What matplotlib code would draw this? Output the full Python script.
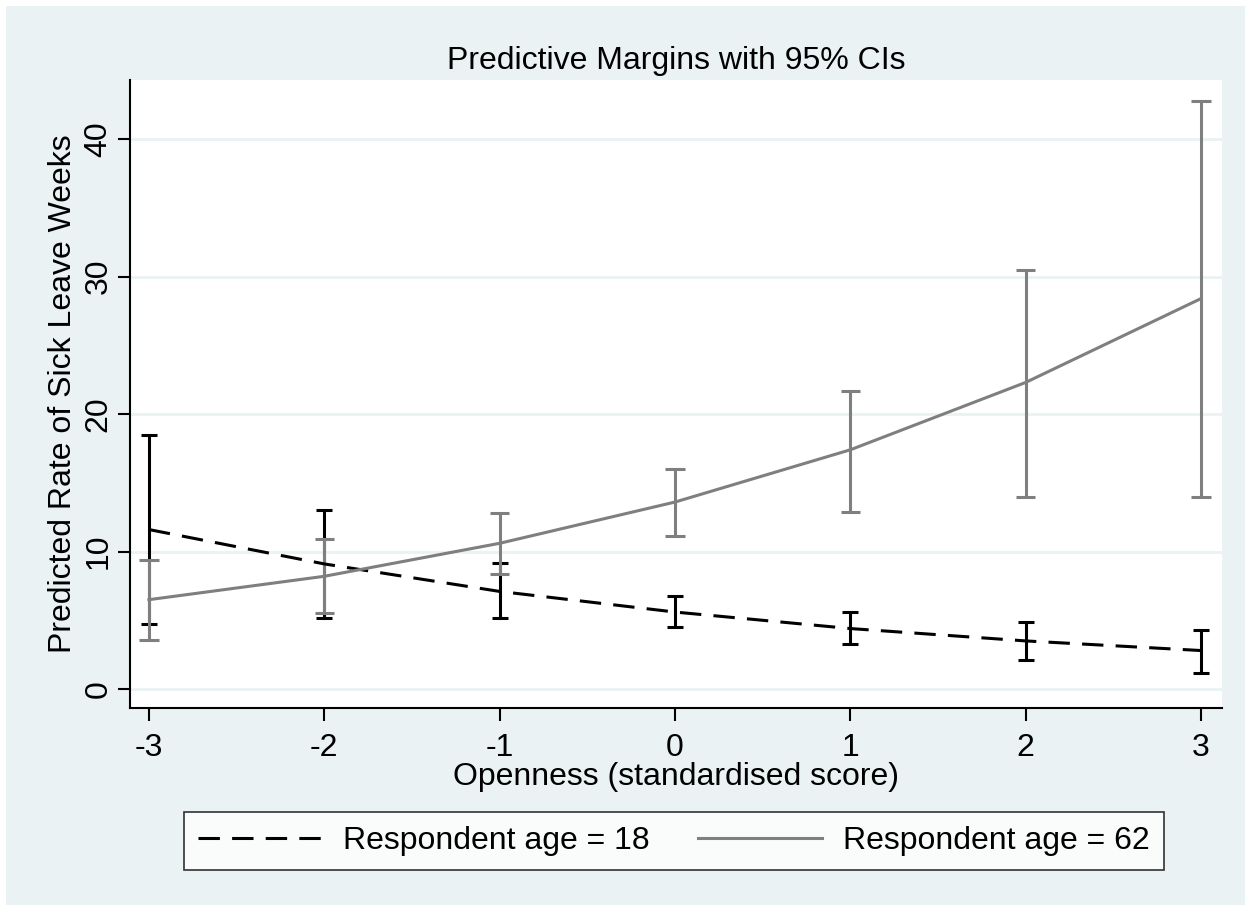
import matplotlib.pyplot as plt
from matplotlib.patches import Rectangle

plt.rcParams['font.family'] = ['Liberation Sans', 'DejaVu Sans']

openness = [-3, -2, -1, 0, 1, 2, 3]

# Respondent age = 18
age18_margin = [11.6, 9.1, 7.1, 5.6, 4.4, 3.5, 2.8]
age18_lower = [4.7, 5.2, 5.2, 4.5, 3.3, 2.1, 1.2]
age18_upper = [18.5, 13.0, 9.2, 6.8, 5.6, 4.9, 4.3]

# Respondent age = 62
age62_margin = [6.5, 8.2, 10.6, 13.6, 17.4, 22.3, 28.4]
age62_lower = [3.6, 5.5, 8.4, 11.1, 12.9, 14.0, 14.0]
age62_upper = [9.4, 10.9, 12.8, 16.0, 21.7, 30.5, 42.8]

y_ticks = [0, 10, 20, 30, 40]

bg = '#EAF2F3'
gray = '#7f7f7f'
fs = 23

fig = plt.figure(figsize=(12.51, 9.08), dpi=100)
fig.patch.set_facecolor('white')
fig.patches.append(Rectangle((6 / 1251, 3 / 908), 1239 / 1251, 899 / 908,
                             transform=fig.transFigure, facecolor=bg,
                             edgecolor='none', zorder=-10))
ax = fig.add_axes([130 / 1251, 1 - 708 / 908, 1092 / 1251, 628 / 908])
ax.set_facecolor('white')

ax.vlines(openness, age18_lower, age18_upper, color='black', lw=2.2, zorder=2)
ax.hlines(age18_lower + age18_upper, [x - 0.045 for x in openness * 2],
          [x + 0.045 for x in openness * 2], color='black', lw=2.2, zorder=2)
ax.vlines(openness, age62_lower, age62_upper, color=gray, lw=2.2, zorder=3)
ax.hlines(age62_lower + age62_upper, [x - 0.055 for x in openness * 2],
          [x + 0.055 for x in openness * 2], color=gray, lw=2.2, zorder=3)

ax.plot(openness, age18_margin, color='black', lw=2.2, dashes=(7, 4),
        label='Respondent age = 18', zorder=4)
ax.plot(openness, age62_margin, color=gray, lw=2.2,
        label='Respondent age = 62', zorder=4)

ax.set_xlim(-3.108, 3.12)
ax.set_ylim(-1.38, 44.3)
ax.set_xticks(openness)
ax.set_xticklabels([str(x) for x in openness])
ax.set_yticks(y_ticks)
ax.set_yticklabels([str(y) for y in y_ticks], rotation=90, va='center')
ax.grid(axis='y', color=bg, lw=2, zorder=0)
ax.set_axisbelow(True)
for side in ['top', 'right']:
    ax.spines[side].set_visible(False)
for side in ['left', 'bottom']:
    ax.spines[side].set_linewidth(1.5)
ax.tick_params(axis='y', labelsize=fs, width=1.5, length=9, pad=3)
ax.tick_params(axis='x', labelsize=fs, width=1.5, length=9, pad=9)

ax.set_title('Predictive Margins with 95% CIs', fontsize=fs, pad=8)
ax.set_xlabel('Openness (standardised score)', fontsize=fs, labelpad=-1)
ax.set_ylabel('Predicted Rate of Sick Leave Weeks', fontsize=fs, labelpad=4)

leg = fig.legend(loc='center', bbox_to_anchor=(674 / 1251, 1 - 841 / 908),
                 ncol=2, fontsize=fs, frameon=True, fancybox=False,
                 edgecolor='black', handlelength=3.9, columnspacing=1.5,
                 handletextpad=0.65, borderpad=0.45, borderaxespad=0)
leg.get_frame().set_linewidth(1.2)

fig.savefig('out.png', dpi=100, facecolor=fig.get_facecolor())
